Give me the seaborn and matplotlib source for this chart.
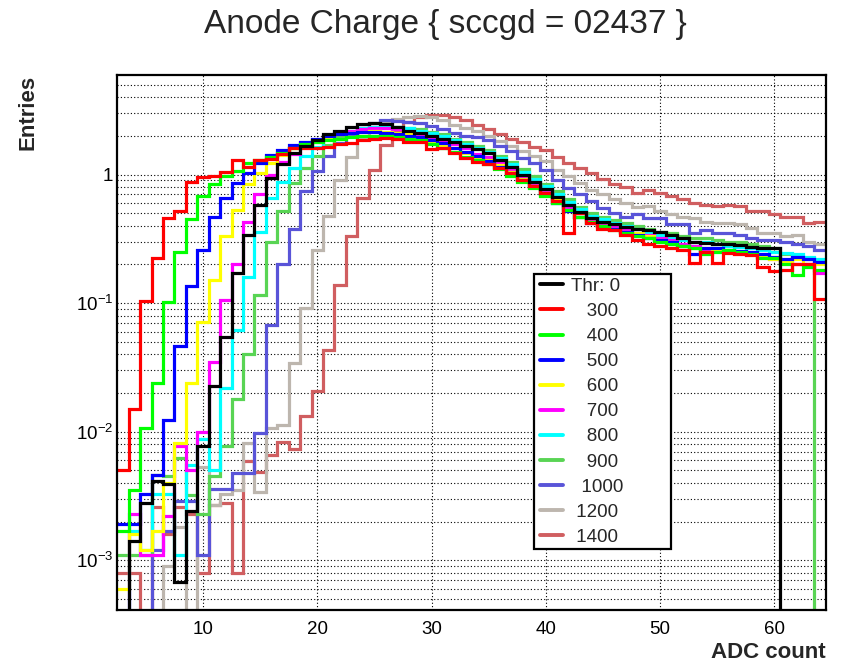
import numpy as np
import pandas as pd
import matplotlib
matplotlib.use("Agg")
import matplotlib.pyplot as plt
import seaborn as sns
from matplotlib.lines import Line2D
from matplotlib.patches import Rectangle
from matplotlib.ticker import MultipleLocator, LogLocator, FuncFormatter, NullFormatter

# ---------------- data (bin centres = ADC count) ----------------
adc_bins = list(range(3, 65))

thr_0 = [0, 0.0014, 0.0028, 0.0041, 0.0039, 0.00068, 0.0024, 0.0077, 0.0225, 0.055,
         0.172, 0.34, 0.58, 0.94, 1.2, 1.47, 1.66, 1.87, 2.05, 2.2,
         2.35, 2.48, 2.52, 2.48, 2.35, 2.2, 2.1, 2.0, 1.9, 1.78,
         1.68, 1.58, 1.47, 1.3, 1.15, 1.0, 0.88, 0.77, 0.67, 0.58,
         0.51, 0.46, 0.43, 0.41, 0.39, 0.38, 0.37, 0.36, 0.34, 0.32,
         0.30, 0.295, 0.29, 0.29, 0.285, 0.275, 0.27, 0.27, 0, 0,
         0, 0]
thr_300 = [0.005, 0.015, 0.103, 0.225, 0.46, 0.52, 0.88, 0.95, 0.97, 1.04,
           1.3, 1.14, 1.29, 1.32, 1.45, 1.62, 1.62, 1.6, 1.63, 1.74,
           1.76, 1.87, 1.9, 1.93, 1.9, 1.8, 1.78, 1.57, 1.62, 1.48,
           1.35, 1.25, 1.2, 1.12, 1.02, 0.9, 0.82, 0.72, 0.62, 0.35,
           0.5, 0.42, 0.38, 0.37, 0.34, 0.31, 0.29, 0.28, 0.27, 0.26,
           0.205, 0.25, 0.205, 0.245, 0.24, 0.235, 0.19, 0.178, 0.18, 0.2,
           0.2, 0.107]
thr_400 = [0.0017, 0.0035, 0.0107, 0.024, 0.102, 0.25, 0.45, 0.68, 0.84, 0.97,
           1.06, 1.22, 1.3, 1.38, 1.48, 1.6, 1.72, 1.8, 1.85, 1.9,
           1.95, 2.0, 2.0, 2.0, 1.95, 1.9, 1.85, 1.72, 1.62, 1.5,
           1.38, 1.3, 1.2, 1.1, 0.98, 0.88, 0.79, 0.68, 0.6, 0.53,
           0.47, 0.43, 0.4, 0.37, 0.35, 0.33, 0.32, 0.3, 0.29, 0.28,
           0.27, 0.24, 0.25, 0.26, 0.25, 0.24, 0.225, 0.225, 0.2, 0.165,
           0.19, 0.18]
thr_500 = [0.0019, 0.0019, 0.0033, 0.0046, 0.0124, 0.046, 0.135, 0.26, 0.47, 0.66,
           0.86, 1.03, 1.22, 1.43, 1.55, 1.7, 1.8, 1.9, 2.0, 2.05,
           2.1, 2.15, 2.15, 2.12, 2.05, 2.0, 1.95, 1.85, 1.75, 1.62,
           1.5, 1.4, 1.28, 1.15, 1.02, 0.9, 0.8, 0.7, 0.6, 0.52,
           0.47, 0.42, 0.4, 0.38, 0.36, 0.34, 0.32, 0.31, 0.3, 0.28,
           0.24, 0.27, 0.27, 0.26, 0.255, 0.25, 0.24, 0.23, 0.22, 0.23,
           0.22, 0.21]
thr_600 = [0.0006, 0.0016, 0.0012, 0.0017, 0.004, 0.0081, 0.024, 0.071, 0.152, 0.33,
           0.53, 0.84, 1.03, 1.23, 1.43, 1.6, 1.75, 1.85, 1.95, 2.05,
           2.12, 2.15, 2.2, 2.15, 2.1, 2.05, 1.95, 1.8, 1.7, 1.6,
           1.48, 1.38, 1.3, 1.18, 1.05, 0.93, 0.82, 0.72, 0.63, 0.52,
           0.47, 0.43, 0.4, 0.38, 0.36, 0.35, 0.33, 0.31, 0.3, 0.28,
           0.27, 0.27, 0.26, 0.25, 0.25, 0.24, 0.23, 0.22, 0.21, 0.22,
           0.2, 0.2]
thr_700 = [0, 0.0023, 0.0011, 0.0011, 0.0022, 0.0078, 0.005, 0.010, 0.035, 0.106,
           0.2, 0.43, 0.7, 1.0, 1.25, 1.45, 1.65, 1.8, 1.95, 2.1,
           2.2, 2.28, 2.3, 2.3, 2.25, 2.15, 2.05, 1.95, 1.85, 1.72,
           1.6, 1.45, 1.38, 1.25, 1.1, 0.97, 0.85, 0.75, 0.65, 0.55,
           0.5, 0.45, 0.42, 0.39, 0.37, 0.35, 0.34, 0.32, 0.31, 0.29,
           0.28, 0.26, 0.255, 0.255, 0.25, 0.24, 0.23, 0.22, 0.21, 0.2,
           0.2, 0.17]
thr_800 = [0, 0.0017, 0.0012, 0.0033, 0.0033, 0.0011, 0.0055, 0.0087, 0.005, 0.022,
           0.062, 0.16, 0.36, 0.66, 0.88, 1.12, 1.4, 1.65, 1.9, 2.1,
           2.2, 2.3, 2.35, 2.35, 2.35, 2.3, 2.2, 2.1, 1.98, 1.85,
           1.72, 1.62, 1.5, 1.35, 1.2, 1.05, 0.92, 0.81, 0.7, 0.61,
           0.54, 0.48, 0.45, 0.42, 0.4, 0.38, 0.36, 0.34, 0.32, 0.31,
           0.3, 0.3, 0.29, 0.28, 0.275, 0.27, 0.26, 0.25, 0.245, 0.24,
           0.23, 0.22]
thr_900 = [0.0011, 0.0011, 0.0011, 0.0046, 0.0045, 0.0062, 0.0032, 0.0023, 0.0045, 0.0078,
           0.018, 0.04, 0.116, 0.3, 0.52, 0.86, 1.13, 1.4, 1.7, 1.95,
           2.1, 2.2, 2.3, 2.35, 2.35, 2.3, 2.25, 2.15, 2.05, 1.9,
           1.8, 1.68, 1.55, 1.4, 1.25, 1.1, 0.97, 0.85, 0.74, 0.64,
           0.56, 0.5, 0.47, 0.44, 0.42, 0.4, 0.38, 0.36, 0.35, 0.33,
           0.32, 0.32, 0.31, 0.3, 0.3, 0.29, 0.28, 0.27, 0.24, 0.23,
           0.22, 0]
thr_1000 = [0, 0, 0, 0.0012, 0.0017, 0.0029, 0.0029, 0.0011, 0.0036, 0.0036,
            0.0048, 0.0048, 0.0098, 0.068, 0.2, 0.38, 0.74, 1.06, 1.4, 1.75,
            2.0, 2.3, 2.5, 2.65, 2.6, 2.55, 2.5, 2.4, 2.25, 2.1,
            2.0, 1.95, 1.87, 1.66, 1.52, 1.35, 1.23, 1.09, 0.91, 0.79,
            0.7, 0.62, 0.55, 0.5, 0.47, 0.49, 0.46, 0.46, 0.41, 0.41,
            0.35, 0.37, 0.35, 0.35, 0.34, 0.32, 0.31, 0.31, 0.3, 0.29,
            0.28, 0.26]
thr_1200 = [0, 0, 0, 0, 0.0009, 0.0018, 0, 0.0053, 0.0027, 0.0033,
            0.0035, 0.0082, 0.0034, 0.0107, 0.0113, 0.034, 0.092, 0.26, 0.48, 0.91,
            1.36, 1.9, 2.3, 2.55, 2.7, 2.8, 2.85, 2.8, 2.68, 2.45,
            2.3, 2.17, 1.99, 1.82, 1.66, 1.52, 1.39, 1.27, 1.09, 0.97,
            0.86, 0.76, 0.7, 0.64, 0.6, 0.56, 0.57, 0.52, 0.49, 0.47,
            0.46, 0.43, 0.42, 0.42, 0.41, 0.385, 0.35, 0.35, 0.33, 0.34,
            0.3, 0.29]
thr_1400 = [0.0008, 0.0008, 0, 0.0026, 0.0016, 0.0026, 0.0023, 0.0008, 0.0027, 0.0028,
            0.0008, 0.0059, 0.0049, 0.0066, 0.0083, 0.0073, 0.0132, 0.0206, 0.0435, 0.139,
            0.33, 0.66, 1.09, 1.71, 2.2, 2.55, 2.8, 2.93, 2.93, 2.8,
            2.65, 2.45, 2.25, 2.07, 1.9, 1.78, 1.64, 1.54, 1.38, 1.22,
            1.12, 1.02, 0.92, 0.84, 0.8, 0.72, 0.76, 0.72, 0.68, 0.64,
            0.6, 0.58, 0.57, 0.58, 0.57, 0.52, 0.52, 0.49, 0.47, 0.47,
            0.42, 0.43]

thresholds = ["Thr: 0", "300", "400", "500", "600", "700", "800", "900", "1000", "1200", "1400"]
legend_labels = ["Thr: 0", "   300", "   400", "   500", "   600", "   700",
                 "   800", "   900", "  1000", " 1200", " 1400"]
series = [thr_0, thr_300, thr_400, thr_500, thr_600, thr_700, thr_800,
          thr_900, thr_1000, thr_1200, thr_1400]
colors = ["#000000", "#ff0000", "#00ff00", "#0000ff", "#ffff00", "#ff00ff",
          "#00ffff", "#59d454", "#5954d8", "#bdb6ae", "#d05e60"]

# ---------------- style ----------------
sns.set_theme(style="white")
plt.rcParams["font.family"] = ["Liberation Sans", "DejaVu Sans"]
plt.rcParams["mathtext.fontset"] = "custom"
plt.rcParams["mathtext.rm"] = "Liberation Sans"
plt.rcParams["mathtext.it"] = "Liberation Sans:italic"
plt.rcParams["mathtext.bf"] = "Liberation Sans:bold"

df = pd.concat([pd.DataFrame({"adc": adc_bins, "entries": s, "thr": t})
                for s, t in zip(series, thresholds)], ignore_index=True)
lo_edge = adc_bins[0] - 0.5
hi_edge = adc_bins[-1] + 0.5

fig = plt.figure(figsize=(8.46, 6.65), dpi=100)
ax = fig.add_axes([0.1387, 0.0827, 0.8375, 0.8038])
ax.set_yscale("log")

sns.histplot(data=df, x="adc", weights="entries", hue="thr", hue_order=thresholds,
             palette=dict(zip(thresholds, colors)), binwidth=1, binrange=(lo_edge, hi_edge),
             element="step", fill=False, linewidth=2.3, legend=False, ax=ax,
             solid_joinstyle="miter", solid_capstyle="butt")

ax.set_xlim(lo_edge, hi_edge)
ax.set_ylim(4.1e-4, 5.9)

# axes cosmetics (ROOT-like)
ax.set_xlabel("")
ax.set_ylabel("")
ax.xaxis.set_major_locator(MultipleLocator(10))
ax.xaxis.set_minor_locator(MultipleLocator(2))
ax.yaxis.set_major_locator(LogLocator(base=10, numticks=20))
ax.yaxis.set_minor_locator(LogLocator(base=10, subs=np.arange(2, 10), numticks=50))
ax.yaxis.set_minor_formatter(NullFormatter())


def yfmt(v, pos):
    e = int(round(np.log10(v)))
    if e == 0:
        return "1"
    return r"$\mathregular{10^{%d}}$" % e


ax.yaxis.set_major_formatter(FuncFormatter(yfmt))
ax.tick_params(axis="both", which="both", direction="in", colors="black",
               top=False, right=False, labelsize=13.5)
ax.tick_params(axis="x", which="major", length=11, width=1.3, pad=8)
ax.tick_params(axis="x", which="minor", length=6, width=1.2)
ax.tick_params(axis="y", which="major", length=13, width=1.3, pad=3)
ax.tick_params(axis="y", which="minor", length=6.5, width=1.2)
for sp in ax.spines.values():
    sp.set_color("black")
    sp.set_linewidth(1.6)

ax.set_axisbelow(True)
ax.grid(True, which="major", axis="x", color="black", linestyle=(0, (1, 2)), linewidth=0.8)
ax.grid(True, which="both", axis="y", color="black", linestyle=(0, (1, 2)), linewidth=0.8)

# legend box + entries
ax.add_patch(Rectangle((0.588, 0.114), 0.1934, 0.514, transform=ax.transAxes,
                       facecolor="white", edgecolor="black", linewidth=1.6, zorder=5))
handles = [Line2D([], [], color=c, linewidth=2.8) for c in colors]
leg = ax.legend(handles, legend_labels, loc="upper left", bbox_to_anchor=(0.5965, 0.6215),
                frameon=False, fontsize=13.5, handlelength=1.25, handletextpad=0.4,
                labelspacing=0.425, borderpad=0, borderaxespad=0)
leg.set_zorder(6)

# texts
fig.text(445 / 846, 1 - 25 / 665, "Anode Charge { sccgd = 02437 }", ha="center",
         va="center", fontsize=24)
fig.text(28 / 846, 1 - 75 / 665, "Entries", rotation=90, ha="center", va="top",
         fontsize=16, fontweight="bold")
fig.text(826 / 846, 1 - 653 / 665, "ADC count", ha="right", va="center",
         fontsize=16, fontweight="bold")

fig.savefig("out.png", dpi=100)
